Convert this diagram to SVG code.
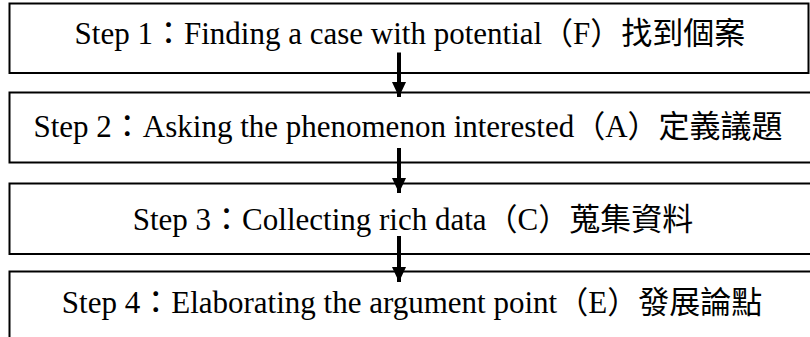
<svg xmlns="http://www.w3.org/2000/svg" width="810" height="337" viewBox="0 0 810 337">
  <style>
    .box { fill: #ffffff; stroke: #000000; stroke-width: 2; }
    .label { font-family: "Liberation Serif", "Noto Sans CJK TC", serif; font-size: 31px; fill: #000000; text-anchor: middle; }
    .flow { stroke: #000000; stroke-width: 4; fill: none; }
  </style>
  <defs>
    <marker id="head" markerUnits="userSpaceOnUse" markerWidth="16" markerHeight="16" refX="15" refY="7" orient="auto">
      <path d="M0,0 L15,7 L0,14 Z" fill="#000000"/>
    </marker>
  </defs>
  <rect width="810" height="337" fill="#ffffff"/>

  <!-- step boxes -->
  <g id="step1">
    <rect class="box" x="9.5" y="3.5" width="799" height="69.5"/>
    <text class="label" x="410" y="44">Step 1：Finding a case with potential（F）找到個案</text>
  </g>
  <g id="step2">
    <rect class="box" x="9.5" y="92.5" width="805" height="70"/>
    <text class="label" x="408" y="137">Step 2：Asking the phenomenon interested（A）定義議題</text>
  </g>
  <g id="step3">
    <rect class="box" x="9.5" y="183.5" width="805" height="70.5"/>
    <text class="label" x="413" y="230">Step 3：Collecting rich data（C）蒐集資料</text>
  </g>
  <g id="step4">
    <rect class="box" x="9.5" y="271.5" width="805" height="80"/>
    <text class="label" x="412" y="313">Step 4：Elaborating the argument point（E）發展論點</text>
  </g>

  <!-- connectors -->
  <g id="connectors">
    <line class="flow" x1="399" y1="52.5" x2="399" y2="97" marker-end="url(#head)"/>
    <line class="flow" x1="399" y1="148" x2="399" y2="193" marker-end="url(#head)"/>
    <line class="flow" x1="399" y1="236" x2="399" y2="282" marker-end="url(#head)"/>
  </g>
</svg>
